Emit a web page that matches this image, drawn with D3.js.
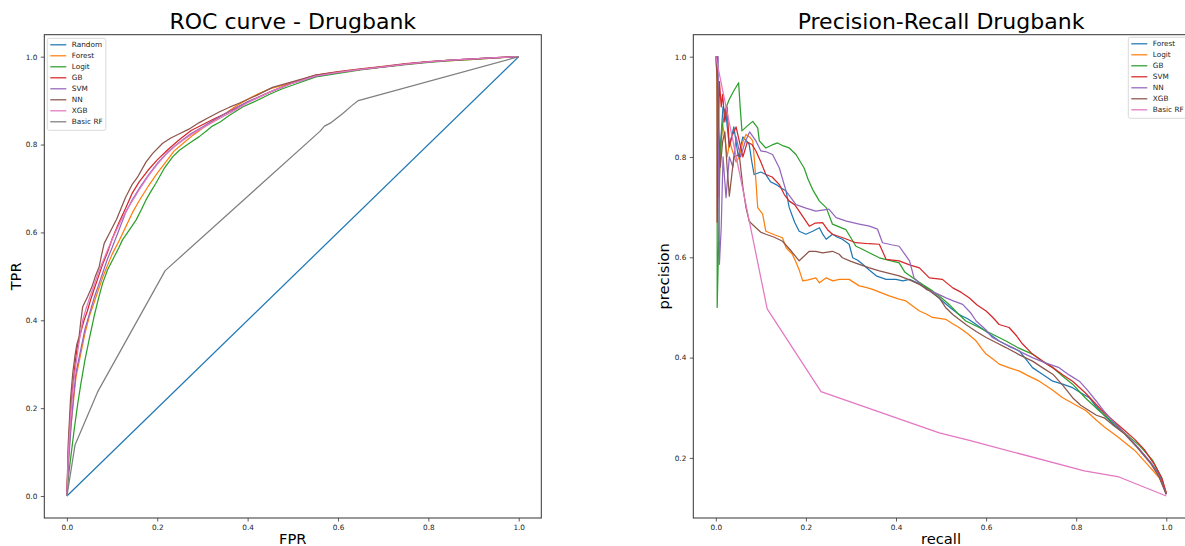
<!DOCTYPE html>
<html><head><meta charset="utf-8">
<script src="https://cdn.jsdelivr.net/npm/d3@7"></script>
<style>
html,body{margin:0;padding:0;background:#fff;}
svg text{font-family:"DejaVu Sans",sans-serif;}
</style></head>
<body><svg id="c" width="1185" height="546"></svg>
<script>
// ---------------- DATA ----------------
const rocNames = ["Random","Forest","Logit","GB","SVM","NN","XGB","Basic RF"];
const prNames = ["Forest","Logit","GB","SVM","NN","XGB","Basic RF"];
const palette = ["#1f77b4","#ff7f0e","#2ca02c","#d62728","#9467bd","#8c564b","#e377c2","#7f7f7f"];
const rocTicks = [0,0.2,0.4,0.6,0.8,1.0];
const prXTicks = [0,0.2,0.4,0.6,0.8,1.0];
const prYTicks = [0.2,0.4,0.6,0.8,1.0];

// ROC series: [FPR, TPR]
const rocRandom = [[0,0],[1,1]];
const rocForest = [[0,0],[0.003,0.08],[0.008,0.15],[0.013,0.2],[0.02,0.27],[0.03,0.32],[0.04,0.37],[0.05,0.41],[0.06,0.44],[0.07,0.47],[0.08,0.5],[0.09,0.525],[0.1,0.55],[0.115,0.58],[0.13,0.612],[0.145,0.645],[0.16,0.672],[0.18,0.705],[0.2,0.735],[0.215,0.755],[0.237,0.785],[0.26,0.805],[0.28,0.822],[0.3,0.837],[0.325,0.854],[0.35,0.87],[0.375,0.888],[0.4,0.903],[0.425,0.916],[0.45,0.927],[0.5,0.941],[0.55,0.955],[0.6,0.964],[0.65,0.971],[0.7,0.977],[0.75,0.983],[0.8,0.988],[0.85,0.991],[0.9,0.994],[0.95,0.997],[1,1]];
const rocLogit = [[0,0],[0.004,0.05],[0.01,0.1],[0.016,0.15],[0.024,0.21],[0.031,0.256],[0.04,0.31],[0.049,0.355],[0.06,0.408],[0.07,0.45],[0.079,0.484],[0.09,0.515],[0.105,0.545],[0.115,0.565],[0.123,0.583],[0.138,0.605],[0.153,0.628],[0.165,0.652],[0.175,0.674],[0.187,0.695],[0.197,0.712],[0.215,0.745],[0.234,0.772],[0.249,0.787],[0.275,0.806],[0.293,0.818],[0.31,0.832],[0.322,0.842],[0.34,0.852],[0.359,0.866],[0.39,0.886],[0.414,0.897],[0.45,0.915],[0.477,0.927],[0.51,0.939],[0.551,0.954],[0.6,0.962],[0.65,0.97],[0.7,0.976],[0.75,0.982],[0.8,0.987],[0.85,0.991],[0.9,0.994],[0.95,0.997],[1,1]];
const rocGB = [[0,0],[0.003,0.1],[0.007,0.18],[0.012,0.24],[0.018,0.3],[0.023,0.34],[0.03,0.37],[0.038,0.4],[0.045,0.42],[0.052,0.445],[0.06,0.47],[0.07,0.5],[0.08,0.53],[0.09,0.555],[0.1,0.585],[0.115,0.622],[0.13,0.655],[0.145,0.69],[0.16,0.715],[0.18,0.742],[0.2,0.765],[0.225,0.79],[0.25,0.812],[0.275,0.832],[0.3,0.845],[0.325,0.858],[0.35,0.87],[0.375,0.883],[0.4,0.897],[0.45,0.92],[0.5,0.941],[0.55,0.958],[0.6,0.966],[0.65,0.972],[0.7,0.978],[0.75,0.984],[0.8,0.989],[0.85,0.992],[0.9,0.995],[0.95,0.998],[1,1]];
const rocSVM = [[0,0],[0.004,0.08],[0.01,0.17],[0.015,0.23],[0.02,0.28],[0.03,0.33],[0.04,0.38],[0.05,0.415],[0.06,0.45],[0.07,0.48],[0.08,0.51],[0.09,0.54],[0.1,0.565],[0.115,0.605],[0.13,0.645],[0.145,0.675],[0.16,0.7],[0.18,0.73],[0.2,0.757],[0.225,0.785],[0.25,0.806],[0.275,0.825],[0.3,0.84],[0.325,0.856],[0.35,0.87],[0.375,0.884],[0.4,0.897],[0.45,0.92],[0.5,0.94],[0.55,0.955],[0.6,0.964],[0.65,0.971],[0.7,0.977],[0.75,0.983],[0.8,0.988],[0.85,0.992],[0.9,0.995],[0.95,0.998],[1,1]];
const rocNN = [[0,0],[0.003,0.12],[0.008,0.22],[0.013,0.28],[0.018,0.32],[0.022,0.345],[0.027,0.3625],[0.031,0.4],[0.035,0.431],[0.046,0.454],[0.055,0.475],[0.063,0.5],[0.0715,0.522],[0.077,0.55],[0.0826,0.575],[0.095,0.6],[0.11,0.63],[0.12,0.655],[0.13,0.68],[0.145,0.71],[0.156,0.725],[0.175,0.76],[0.19,0.78],[0.212,0.803],[0.23,0.815],[0.248,0.824],[0.27,0.835],[0.293,0.85],[0.315,0.862],[0.337,0.874],[0.36,0.885],[0.381,0.894],[0.42,0.912],[0.455,0.93],[0.5,0.943],[0.551,0.958],[0.6,0.965],[0.65,0.971],[0.7,0.977],[0.75,0.983],[0.8,0.988],[0.85,0.992],[0.9,0.995],[0.95,0.998],[1,1]];
const rocXGB = [[0,0],[0.003,0.09],[0.008,0.18],[0.014,0.25],[0.02,0.3],[0.027,0.35],[0.035,0.4],[0.042,0.425],[0.05,0.45],[0.06,0.48],[0.07,0.51],[0.08,0.535],[0.09,0.56],[0.105,0.595],[0.12,0.628],[0.135,0.655],[0.15,0.68],[0.165,0.705],[0.18,0.728],[0.2,0.755],[0.22,0.778],[0.24,0.797],[0.26,0.812],[0.28,0.826],[0.3,0.838],[0.325,0.852],[0.35,0.866],[0.375,0.88],[0.4,0.895],[0.45,0.92],[0.5,0.94],[0.55,0.956],[0.6,0.964],[0.65,0.971],[0.7,0.977],[0.75,0.983],[0.8,0.988],[0.85,0.992],[0.9,0.995],[0.95,0.998],[1,1]];
const rocBasicRF = [[0,0],[0.018,0.116],[0.068,0.237],[0.2175,0.513],[0.56,0.83],[0.57,0.842],[0.585,0.85],[0.6,0.862],[0.61,0.87],[0.63,0.888],[0.645,0.9],[1,1]];

// Precision-recall series: [recall, precision]
const prForest = [[0,1],[0.004,1],[0.006,0.76],[0.01,0.82],[0.016,0.9],[0.0226,0.885],[0.03,0.82],[0.04,0.86],[0.05,0.8],[0.06,0.84],[0.074,0.825],[0.08,0.79],[0.085,0.765],[0.1,0.77],[0.111,0.765],[0.122,0.75],[0.134,0.745],[0.145,0.738],[0.156,0.732],[0.163,0.699],[0.175,0.67],[0.185,0.652],[0.2,0.646],[0.215,0.652],[0.23,0.659],[0.238,0.645],[0.245,0.636],[0.259,0.646],[0.27,0.64],[0.281,0.636],[0.296,0.626],[0.304,0.599],[0.315,0.594],[0.326,0.586],[0.34,0.575],[0.356,0.563],[0.378,0.556],[0.4,0.556],[0.415,0.553],[0.43,0.556],[0.45,0.548],[0.467,0.539],[0.485,0.527],[0.503,0.513],[0.52,0.5],[0.54,0.486],[0.56,0.477],[0.578,0.466],[0.6,0.452],[0.629,0.433],[0.65,0.423],[0.674,0.413],[0.69,0.395],[0.703,0.38],[0.725,0.367],[0.748,0.353],[0.77,0.347],[0.792,0.34],[0.81,0.33],[0.829,0.32],[0.845,0.302],[0.862,0.285],[0.885,0.265],[0.907,0.25],[0.936,0.222],[0.966,0.19],[0.984,0.168],[1.0,0.128]];
const prLogit = [[0,1],[0.003,0.95],[0.006,0.72],[0.01,0.8],[0.015,0.865],[0.02,0.84],[0.025,0.8],[0.031,0.83],[0.037,0.812],[0.045,0.79],[0.052,0.8],[0.06,0.83],[0.067,0.845],[0.075,0.84],[0.082,0.832],[0.086,0.79],[0.089,0.752],[0.093,0.699],[0.104,0.686],[0.111,0.652],[0.13,0.645],[0.148,0.639],[0.156,0.619],[0.17,0.606],[0.178,0.59],[0.185,0.575],[0.193,0.553],[0.205,0.555],[0.222,0.559],[0.23,0.549],[0.245,0.559],[0.26,0.553],[0.274,0.556],[0.296,0.556],[0.3185,0.543],[0.333,0.54],[0.348,0.536],[0.365,0.53],[0.385,0.523],[0.405,0.517],[0.422,0.513],[0.437,0.503],[0.452,0.493],[0.467,0.487],[0.481,0.48],[0.511,0.476],[0.525,0.468],[0.54,0.46],[0.56,0.447],[0.578,0.433],[0.59,0.418],[0.6,0.407],[0.615,0.397],[0.629,0.387],[0.65,0.38],[0.674,0.373],[0.695,0.363],[0.718,0.353],[0.745,0.337],[0.77,0.32],[0.8,0.305],[0.822,0.294],[0.845,0.275],[0.862,0.262],[0.892,0.242],[0.93,0.215],[0.96,0.185],[0.985,0.16],[1.0,0.13]];
const prGB = [[0,1],[0.003,1],[0.003,0.5],[0.006,0.62],[0.009,0.8],[0.014,0.86],[0.0226,0.898],[0.03,0.915],[0.04,0.932],[0.0506,0.948],[0.054,0.9],[0.058,0.852],[0.07,0.862],[0.082,0.871],[0.093,0.858],[0.0966,0.832],[0.111,0.818],[0.125,0.824],[0.137,0.828],[0.15,0.822],[0.163,0.818],[0.178,0.805],[0.196,0.778],[0.205,0.755],[0.215,0.735],[0.23,0.712],[0.245,0.699],[0.259,0.666],[0.275,0.66],[0.289,0.655],[0.311,0.622],[0.3185,0.619],[0.3407,0.609],[0.363,0.599],[0.385,0.594],[0.407,0.589],[0.42,0.57],[0.437,0.559],[0.46,0.545],[0.481,0.533],[0.5,0.52],[0.518,0.506],[0.535,0.49],[0.555,0.473],[0.578,0.463],[0.6,0.453],[0.622,0.443],[0.644,0.433],[0.67,0.42],[0.703,0.407],[0.725,0.393],[0.748,0.38],[0.77,0.363],[0.792,0.347],[0.82,0.32],[0.851,0.294],[0.862,0.286],[0.885,0.268],[0.907,0.25],[0.94,0.225],[0.97,0.195],[0.99,0.16],[1.0,0.128]];
const prSVM = [[0,1],[0.003,1],[0.003,0.67],[0.006,0.85],[0.008,0.95],[0.012,0.9],[0.015,0.925],[0.02,0.87],[0.025,0.9],[0.03,0.82],[0.035,0.84],[0.045,0.86],[0.052,0.832],[0.06,0.8],[0.07,0.83],[0.08,0.825],[0.089,0.812],[0.1,0.79],[0.111,0.765],[0.125,0.76],[0.141,0.745],[0.152,0.725],[0.163,0.712],[0.175,0.705],[0.185,0.692],[0.2075,0.662],[0.22,0.668],[0.237,0.669],[0.248,0.655],[0.259,0.646],[0.285,0.638],[0.311,0.629],[0.34,0.627],[0.363,0.626],[0.378,0.596],[0.407,0.593],[0.43,0.585],[0.452,0.579],[0.474,0.559],[0.503,0.556],[0.526,0.539],[0.545,0.53],[0.563,0.519],[0.58,0.505],[0.6,0.493],[0.615,0.48],[0.629,0.466],[0.651,0.46],[0.668,0.443],[0.681,0.427],[0.703,0.407],[0.725,0.393],[0.748,0.38],[0.77,0.366],[0.792,0.353],[0.82,0.33],[0.844,0.307],[0.862,0.29],[0.885,0.272],[0.907,0.255],[0.93,0.237],[0.951,0.217],[0.975,0.185],[0.99,0.16],[1.0,0.13]];
const prNN = [[0,1],[0.005,1],[0.006,0.8],[0.008,0.586],[0.012,0.66],[0.016,0.8],[0.0226,0.719],[0.03,0.8],[0.038,0.78],[0.045,0.84],[0.055,0.8],[0.065,0.83],[0.075,0.85],[0.089,0.832],[0.1,0.812],[0.113,0.81],[0.126,0.805],[0.141,0.778],[0.156,0.732],[0.178,0.705],[0.2,0.698],[0.222,0.692],[0.251,0.696],[0.267,0.679],[0.29,0.672],[0.3185,0.666],[0.341,0.662],[0.359,0.656],[0.37,0.629],[0.39,0.625],[0.407,0.622],[0.43,0.593],[0.44,0.559],[0.467,0.536],[0.49,0.528],[0.511,0.519],[0.53,0.512],[0.548,0.506],[0.565,0.49],[0.578,0.473],[0.6,0.455],[0.614,0.44],[0.635,0.43],[0.659,0.42],[0.68,0.41],[0.703,0.4],[0.73,0.39],[0.762,0.38],[0.785,0.365],[0.807,0.353],[0.825,0.335],[0.844,0.314],[0.862,0.293],[0.885,0.27],[0.907,0.25],[0.936,0.222],[0.966,0.19],[0.984,0.165],[1.0,0.128]];
const prXGB = [[0,1],[0.004,0.95],[0.007,0.85],[0.01,0.78],[0.015,0.83],[0.02,0.85],[0.025,0.78],[0.03,0.722],[0.04,0.8],[0.052,0.805],[0.06,0.74],[0.067,0.699],[0.074,0.672],[0.082,0.665],[0.089,0.659],[0.1,0.65],[0.111,0.646],[0.13,0.64],[0.148,0.632],[0.165,0.615],[0.185,0.593],[0.2075,0.612],[0.222,0.612],[0.237,0.609],[0.259,0.612],[0.274,0.606],[0.281,0.599],[0.3,0.592],[0.3185,0.586],[0.341,0.579],[0.363,0.573],[0.385,0.568],[0.407,0.563],[0.43,0.555],[0.452,0.546],[0.475,0.533],[0.496,0.519],[0.51,0.5],[0.526,0.486],[0.555,0.466],[0.578,0.452],[0.6,0.44],[0.622,0.43],[0.644,0.42],[0.675,0.405],[0.703,0.393],[0.725,0.38],[0.748,0.367],[0.77,0.345],[0.792,0.32],[0.81,0.305],[0.829,0.294],[0.845,0.285],[0.862,0.28],[0.885,0.263],[0.907,0.248],[0.936,0.22],[0.966,0.188],[0.984,0.162],[1.0,0.127]];
const prBasicRF = [[0,1],[0.114,0.497],[0.2335,0.332],[0.496,0.25],[0.563,0.235],[0.818,0.174],[0.895,0.162],[1.0,0.124]];

const rocSeries = [rocRandom,rocForest,rocLogit,rocGB,rocSVM,rocNN,rocXGB,rocBasicRF];
const prSeries = [prForest,prLogit,prGB,prSVM,prNN,prXGB,prBasicRF];

// ---------------- DRAW ----------------
const svg = d3.select("#c");
svg.append("rect").attr("width",1185).attr("height",546).attr("fill","#fff");

function panel(opt){
  const g = svg.append("g");
  const x = d3.scaleLinear().domain(opt.xDomain).range([opt.x0,opt.x1]);
  const y = d3.scaleLinear().domain(opt.yDomain).range([opt.y1,opt.y0]);
  const clipId = opt.id + "clip";
  svg.append("clipPath").attr("id",clipId).append("rect")
    .attr("x",opt.x0).attr("y",opt.y0).attr("width",opt.x1-opt.x0).attr("height",opt.y1-opt.y0);
  const line = d3.line().x(d=>x(d[0])).y(d=>y(d[1]));
  const lg = g.append("g").attr("clip-path",`url(#${clipId})`);
  opt.series.forEach((s,i)=>{
    lg.append("path").attr("d",line(s)).attr("fill","none")
      .attr("stroke",opt.colors[i]).attr("stroke-width",1.25).attr("stroke-linejoin","round");
  });
  // axes
  const fmt = d3.format(".1f");
  const xa = g.append("g").attr("transform",`translate(0,${opt.y1})`)
    .call(d3.axisBottom(x).tickValues(opt.xTicks).tickFormat(fmt).tickSize(3.5).tickPadding(3.5));
  const ya = g.append("g").attr("transform",`translate(${opt.x0},0)`)
    .call(d3.axisLeft(y).tickValues(opt.yTicks).tickFormat(fmt).tickSize(3.5).tickPadding(3.5));
  [xa,ya].forEach(a=>{
    a.select(".domain").remove();
    a.selectAll("line").attr("stroke","#333").attr("stroke-width",0.8);
    a.selectAll("text").attr("fill","#222").style("font-size","7.3px").style("font-family","DejaVu Sans");
  });
  // frame
  g.append("rect").attr("x",opt.x0).attr("y",opt.y0).attr("width",opt.x1-opt.x0).attr("height",opt.y1-opt.y0)
    .attr("fill","none").attr("stroke","#333").attr("stroke-width",1);
  // title & labels
  const cx=(opt.x0+opt.x1)/2, cy=(opt.y0+opt.y1)/2;
  g.append("text").attr("x",cx).attr("y",29).attr("text-anchor","middle")
    .style("font-size","22px").attr("fill","#000").text(opt.title);
  g.append("text").attr("x",cx).attr("y",544).attr("text-anchor","middle")
    .style("font-size","14.7px").attr("fill","#000").text(opt.xLabel);
  g.append("text").attr("transform",`translate(${opt.yLabelX},${cy}) rotate(-90)`).attr("text-anchor","middle")
    .style("font-size","14.7px").attr("fill","#000").text(opt.yLabel);
  // legend
  const leg = g.append("g");
  leg.append("rect").attr("x",opt.legX).attr("y",opt.legY).attr("width",opt.legW)
    .attr("height",opt.names.length*11+4).attr("rx",2)
    .attr("fill","#fff").attr("fill-opacity",0.85).attr("stroke","#d0d0d0").attr("stroke-width",0.8);
  opt.names.forEach((n,i)=>{
    const yy = opt.legY + 6.5 + i*11;
    leg.append("line").attr("x1",opt.legX+3).attr("x2",opt.legX+19).attr("y1",yy).attr("y2",yy)
      .attr("stroke",opt.colors[i]).attr("stroke-width",1.25);
    leg.append("text").attr("x",opt.legX+24.5).attr("y",yy+2.6)
      .style("font-size","7.3px").attr("fill","#222").text(n);
  });
}

panel({id:"roc", x0:44.3, x1:541.3, y0:34.7, y1:518,
  xDomain:[-0.05,1.05], yDomain:[-0.05,1.05],
  xTicks:rocTicks, yTicks:rocTicks, series:rocSeries, colors:palette,
  names:rocNames, title:"ROC curve - Drugbank", xLabel:"FPR", yLabel:"TPR", yLabelX:21,
  legX:47.3, legY:38.3, legW:58.5});

const prAll = prSeries.flat();
const pMin = d3.min(prAll,d=>d[1]), pMax = d3.max(prAll,d=>d[1]);
const pPad = (pMax-pMin)*0.05;
panel({id:"pr", x0:693.3, x1:1188.8, y0:34.7, y1:518,
  xDomain:[-0.05,1.05], yDomain:[pMin-pPad,pMax+pPad],
  xTicks:prXTicks, yTicks:prYTicks, series:prSeries, colors:palette.slice(0,7),
  names:prNames, title:"Precision-Recall Drugbank", xLabel:"recall", yLabel:"precision", yLabelX:669,
  legX:1128.3, legY:37.3, legW:58});
</script></body></html>
